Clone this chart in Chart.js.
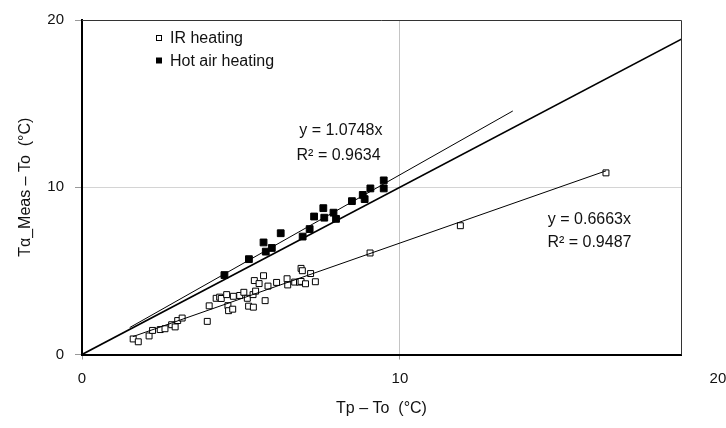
<!DOCTYPE html>
<html>
<head>
<meta charset="utf-8">
<script src="https://cdn.jsdelivr.net/npm/chart.js@4.4.1/dist/chart.umd.min.js"></script>
<style>
  html, body { margin:0; padding:0; background:#fff; }
  #wrap { width:726px; height:428px; }
</style>
</head>
<body>
<div id="wrap"><canvas id="chart" width="726" height="428"></canvas></div>
<script>
// ================= DATA =================
const irX = [1.61,1.77,2.11,2.22,2.46,2.61,2.82,2.93,3.01,3.15,3.94,4.00,4.22,4.33,4.38,4.55,4.59,4.61,4.74,4.76,4.96,5.09,5.20,5.24,5.39,5.38,5.42,5.46,5.57,5.71,5.76,5.85,6.12,6.45,6.47,6.69,6.84,6.89,6.93,6.89,7.03,7.19,7.34,9.06,11.90,16.48];
const irY = [0.93,0.76,1.11,1.44,1.49,1.54,1.78,1.65,2.03,2.18,1.98,2.91,3.36,3.43,3.35,3.58,2.92,2.62,2.71,3.48,3.53,3.72,3.36,2.89,2.83,3.58,4.42,3.79,4.24,4.71,3.22,4.09,4.31,4.53,4.16,4.33,4.33,5.15,5.01,4.37,4.23,4.84,4.35,6.07,7.70,10.86];

const hotX = [4.48,5.25,5.71,5.78,5.97,6.25,6.94,7.16,7.30,7.59,7.62,7.91,7.99,8.49,8.83,8.89,9.07,9.49,9.49];
const hotY = [4.75,5.70,6.70,6.15,6.37,7.25,7.05,7.50,8.25,8.75,8.18,8.48,8.11,9.17,9.54,9.29,9.93,10.41,9.93];

// trend lines (end points) and 1:1 line
const irFitX = [1.60, 16.48];
const irFitY = [1.07, 10.98];
const hotFitX = [1.50, 13.55];
const hotFitY = [1.61, 14.56];
const unityX = [0, 20];
const unityY = [0, 20];

const xTicks = [0, 10, 20];
const equations = [
  {x: 8.14, y: 13.36, text: "y = 1.0748x"},
  {x: 8.07, y: 11.89, text: "R\u00b2 = 0.9634"},
  {x: 15.96, y: 8.04, text: "y = 0.6663x"},
  {x: 15.96, y: 6.69, text: "R\u00b2 = 0.9487"}
];

const FONT = "'Liberation Sans', Arial, sans-serif";
const pts = (xs, ys) => xs.map((x, i) => ({x: x, y: ys[i]}));

// ================= PLUGINS =================
const frame = {
  id: 'frame',
  afterDraw(chart){
    const {ctx, chartArea: a, scales} = chart;
    ctx.save();
    // top + right border
    ctx.strokeStyle = '#333';
    ctx.lineWidth = 1;
    ctx.beginPath();
    ctx.moveTo(a.left, a.top + 0.5);
    ctx.lineTo(a.right + 0.5, a.top + 0.5);
    ctx.lineTo(a.right + 0.5, a.bottom);
    ctx.stroke();

    // equations
    ctx.fillStyle = '#111';
    ctx.font = '16px ' + FONT;
    ctx.textAlign = 'center';
    ctx.textBaseline = 'middle';
    equations.forEach(e => {
      ctx.fillText(e.text, scales.x.getPixelForValue(e.x), scales.y.getPixelForValue(e.y));
    });

    // legend
    const legendItems = chart.data.datasets.filter(d => d.inLegend);
    legendItems.forEach((d, i) => {
      const y = 38 + i * 22.5;
      ctx.fillStyle = d.backgroundColor;
      ctx.strokeStyle = '#000';
      ctx.lineWidth = 1;
      ctx.fillRect(156.5, y - 2.5, 5, 5);
      ctx.strokeRect(156.5, y - 2.5, 5, 5);
      ctx.fillStyle = '#111';
      ctx.textAlign = 'left';
      ctx.font = '16px ' + FONT;
      ctx.fillText(d.label, 170, y + 1);
    });
    ctx.restore();
  }
};

// ================= CHART =================
new Chart(document.getElementById("chart"), {
  type: 'scatter',
  data: {
    datasets: [
      {label: 'IR heating', inLegend: true, data: pts(irX, irY), pointStyle: 'rect', pointRadius: 4.2,
       backgroundColor: '#fff', borderColor: '#000', borderWidth: 1, order: 2},
      {label: 'Hot air heating', inLegend: true, data: pts(hotX, hotY), pointStyle: 'rect', pointRadius: 4.8,
       backgroundColor: '#000', borderColor: '#000', borderWidth: 1, order: 2},
      {label: 'IR fit', data: pts(irFitX, irFitY), showLine: true, pointRadius: 0,
       borderColor: '#000', borderWidth: 1, order: 1},
      {label: 'Hot air fit', data: pts(hotFitX, hotFitY), showLine: true, pointRadius: 0,
       borderColor: '#000', borderWidth: 1, order: 1},
      {label: '1:1', data: pts(unityX, unityY), showLine: true, pointRadius: 0,
       borderColor: '#000', borderWidth: 1.7, order: 1}
    ]
  },
  options: {
    responsive: false,
    animation: false,
    layout: {padding: {top: 15, right: 45, left: 0, bottom: 0}},
    plugins: {legend: {display: false}, tooltip: {enabled: false}},
    scales: {
      x: {
        type: 'linear', min: 0, max: 18.84,
        afterBuildTicks: s => { s.ticks = xTicks.map(v => ({value: v})); },
        afterFit: s => { s.height = 73.5; s.paddingLeft = 0; s.paddingRight = 0; },
        ticks: {autoSkip: false, maxRotation: 0, padding: 10, color: '#111', font: {family: FONT, size: 15}},
        grid: {
          tickLength: 5,
          color: c => c.tick && c.tick.value === 10 ? '#c4c4c4' : 'rgba(0,0,0,0)',
          tickColor: c => c.tick && c.tick.value === 20 ? 'rgba(0,0,0,0)' : '#999'
        },
        border: {color: '#000', width: 2},
        title: {display: true, text: 'Tp \u2013 To  (\u00b0C)', color: '#111',
                font: {family: FONT, size: 16}, padding: {top: 0, bottom: 10}}
      },
      y: {
        type: 'linear', min: 0, max: 20,
        afterFit: s => { s.width = 82; },
        ticks: {stepSize: 10, padding: 11, color: '#111', font: {family: FONT, size: 15}},
        grid: {
          tickLength: 7,
          color: c => c.tick && c.tick.value === 10 ? '#d4d4d4' : 'rgba(0,0,0,0)',
          tickColor: '#999'
        },
        border: {color: '#000', width: 2},
        title: {display: true, text: 'T\u03b1_Meas \u2013 To  (\u00b0C)', color: '#111',
                font: {family: FONT, size: 16}, padding: {top: 16, bottom: 0}}
      }
    }
  },
  plugins: [frame]
});
</script>
</body>
</html>
